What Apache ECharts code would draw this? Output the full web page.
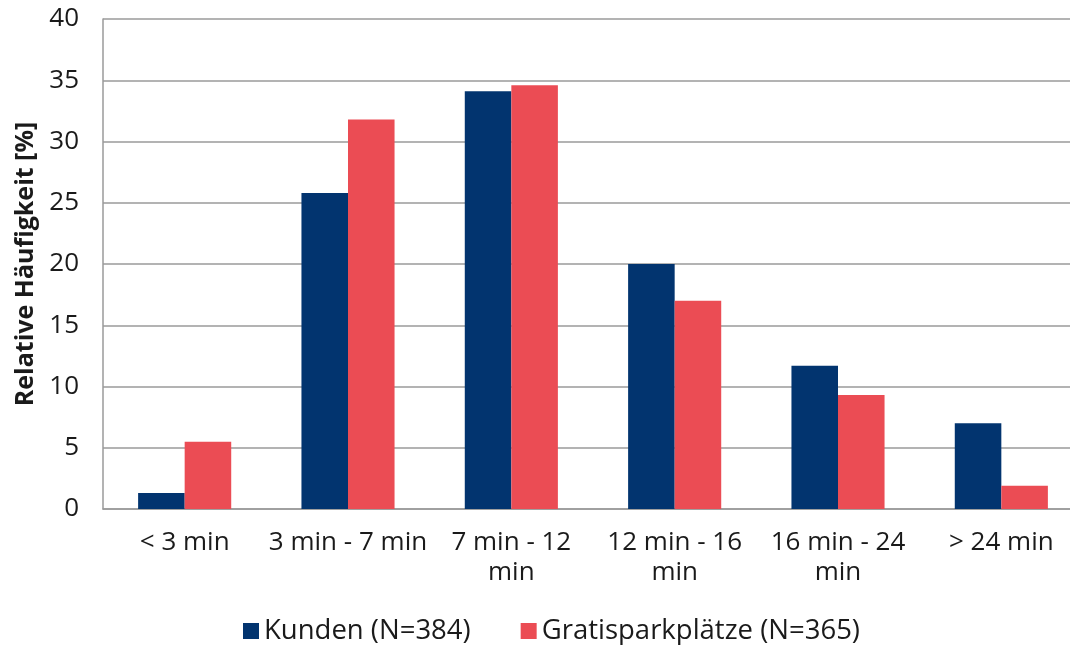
<!DOCTYPE html>
<html>
<head>
<meta charset="utf-8">
<script src="https://cdn.jsdelivr.net/npm/echarts@6/dist/echarts.min.js"></script>
<style>
html,body{margin:0;padding:0;background:#fff;}
#c{width:1070px;height:645px;}
</style>
</head>
<body>
<div id="c"></div>
<script>
const categories = ['< 3 min', '3 min - 7 min', '7 min - 12\nmin', '12 min - 16\nmin', '16 min - 24\nmin', '> 24 min'];
const kunden = [1.3, 25.8, 34.1, 20.0, 11.7, 7.0];
const gratis = [5.5, 31.8, 34.6, 17.0, 9.3, 1.9];
const seriesNames = ['Kunden (N=384)', 'Gratisparkplätze (N=365)'];
const yTicks = { min: 0, max: 40, interval: 5 };
const yName = 'Relative Häufigkeit [%]';

const FONT = '"Open Sans", "Noto Sans", sans-serif';
const chart = echarts.init(document.getElementById('c'), null, { renderer: 'canvas' });
chart.setOption({
  animation: false,
  textStyle: { fontFamily: FONT },
  grid: { left: 103, top: 19, width: 980, height: 490, containLabel: false, outerBoundsMode: 'none' },
  legend: {
    top: 617,
    left: 243,
    padding: 0,
    itemWidth: 16,
    itemHeight: 16,
    itemGap: 50,
    icon: 'rect',
    textStyle: { fontSize: 27.5, color: '#1a1a1a', fontFamily: FONT, padding: [0, 0, 0, 0] },
    data: seriesNames
  },
  xAxis: {
    type: 'category',
    data: categories,
    axisLine: { show: true, lineStyle: { color: '#9a9a9a', width: 1.5 } },
    axisTick: { show: false },
    axisLabel: { fontSize: 26, color: '#1a1a1a', margin: 19, lineHeight: 30, interval: 0, fontFamily: FONT }
  },
  yAxis: {
    type: 'value',
    min: yTicks.min, max: yTicks.max, interval: yTicks.interval,
    name: yName,
    nameLocation: 'middle',
    nameGap: 59,
    nameTextStyle: { fontSize: 25, fontWeight: 'bold', color: '#1a1a1a', fontFamily: FONT },
    axisLine: { show: true, lineStyle: { color: '#9a9a9a', width: 1.5 } },
    axisTick: { show: false },
    axisLabel: { fontSize: 26, color: '#1a1a1a', margin: 24, fontFamily: FONT },
    splitLine: { show: true, lineStyle: { color: '#9a9a9a', width: 1.5 } }
  },
  series: [
    { name: seriesNames[0], type: 'bar', data: kunden, barGap: '0%', barCategoryGap: '43%', itemStyle: { color: '#02346f' } },
    { name: seriesNames[1], type: 'bar', data: gratis, barGap: '0%', barCategoryGap: '43%', itemStyle: { color: '#eb4c54' } }
  ]
});
</script>
</body>
</html>
